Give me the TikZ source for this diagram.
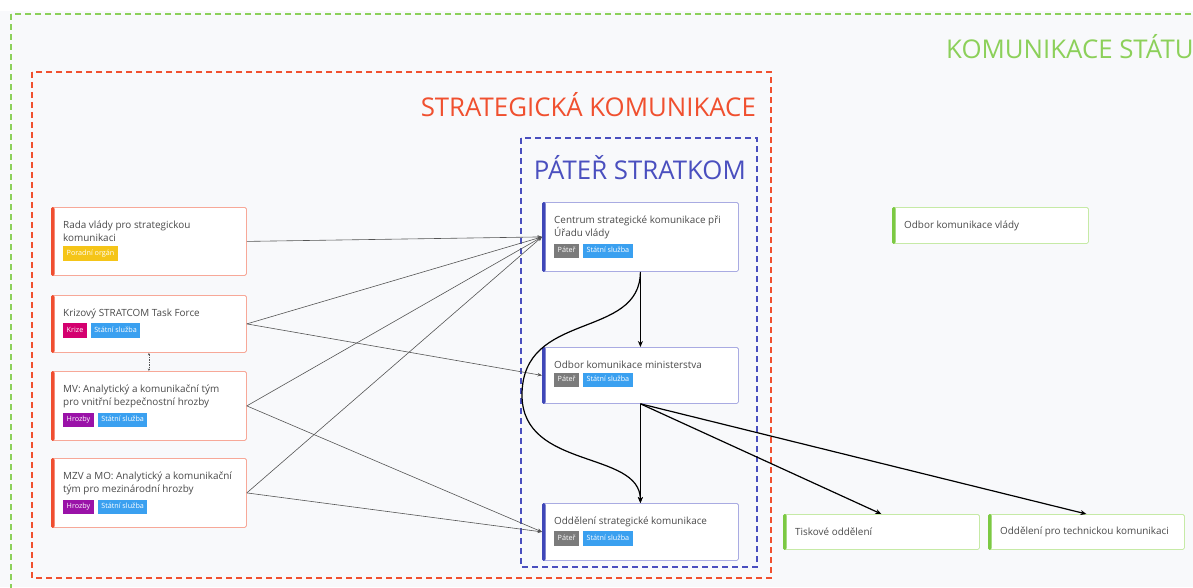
\documentclass[tikz,border=0pt]{standalone}
\usepackage{fontspec}
\setmainfont{Open Sans}
\usetikzlibrary{arrows.meta,calc}

\definecolor{canvas}{HTML}{F8F9FB}
\definecolor{txt}{HTML}{4A4A4A}
\definecolor{stategreen}{HTML}{8CD05A}
\definecolor{stratred}{HTML}{F0502F}
\definecolor{spineblue}{HTML}{4A4FBF}
\definecolor{redborder}{HTML}{F7A898}
\definecolor{redaccent}{HTML}{F04E30}
\definecolor{blueborder}{HTML}{A9ABE2}
\definecolor{blueaccent}{HTML}{3F47B8}
\definecolor{greenborder}{HTML}{C6EAA6}
\definecolor{greenaccent}{HTML}{7CC943}
\definecolor{tagyellow}{HTML}{F5C518}
\definecolor{tagmagenta}{HTML}{D4006F}
\definecolor{tagblue}{HTML}{3AA0F0}
\definecolor{tagpurple}{HTML}{9A12A8}
\definecolor{taggray}{HTML}{7B7B7B}
\definecolor{linkgray}{HTML}{555555}

% small coloured label with white text
\newcommand\tagpill[2]{{\setlength\fboxsep{3.5pt}\colorbox{#1}{\rule[-2pt]{0pt}{7pt}\color{white}\fontsize{7.2}{8}\selectfont #2}}}

\tikzset{
  cardbox/.style={draw=#1border, fill=white, rounded corners=1.5pt, line width=0.8pt,
                  inner sep=0pt, anchor=north west},
  cardtext/.style={anchor=north west, inner sep=0pt, align=left, text=txt,
                   font=\fontsize{9.9}{13.5}\selectfont},
  zone/.style={draw=#1, line width=1.5pt, dash pattern=on 6pt off 4pt},
  zonetitle/.style={text=#1, font=\fontsize{25.8}{28}\selectfont, inner sep=0pt},
  thinlink/.style={draw=linkgray, line width=0.6pt, -{Stealth[length=4.5pt,width=3.5pt]}},
  thicklink/.style={draw=black, line width=1.2pt, -{Stealth[length=6pt,width=5pt]}},
}

% name, x, y, width, height, colour family, title, tags
\newcommand\card[8]{%
  \node[cardbox=#6, minimum width=#4pt, minimum height=#5pt] (#1) at (#2,#3) {};
  \fill[#6accent, rounded corners=1.5pt] (#1.north west) rectangle ([xshift=3.5pt]#1.south west);
  \node[cardtext] (#1-t) at ([xshift=12pt,yshift=-13.5pt]#1.north west) {#7};
  \node[anchor=north west, inner sep=0pt] (#1-g) at ([yshift=-4pt]#1-t.south west) {#8};
}
% name, x, y, width, height, title (one line, green family)
\newcommand\plaincard[6]{%
  \node[cardbox=green, minimum width=#4pt, minimum height=#5pt] (#1) at (#2,#3) {};
  \fill[greenaccent, rounded corners=1.5pt] (#1.north west) rectangle ([xshift=3.5pt]#1.south west);
  \node[cardtext, anchor=west] (#1-t) at ([xshift=12pt]#1.west) {#6};
}

\begin{document}
\begin{tikzpicture}[x=1pt,y=-1pt]
\useasboundingbox (0,0) rectangle (1193,587);
\fill[canvas] (0,0) rectangle (1193,587);
\fill[white] (0,0) rectangle (1193,11);

% nested zones
\draw[zone=stategreen] (11,14) rectangle (1210,600);
\node[zonetitle=stategreen, anchor=west] (zstate) at (946,47) {KOMUNIKACE STÁTU};
\draw[zone=stratred] (32,72) rectangle (771,578);
\node[zonetitle=stratred, anchor=east] (zstrat) at (756,105) {STRATEGICKÁ KOMUNIKACE};
\draw[zone=spineblue] (521,138) rectangle (757,567);
\node[zonetitle=spineblue, anchor=east] (zspine) at (746,168) {PÁTEŘ STRATKOM};

% left column
\card{rada}{51}{207}{195}{68}{red}{Rada vlády pro strategickou\\komunikaci}
  {\tagpill{tagyellow}{Poradní orgán}}
\card{krize}{51}{295}{195}{57}{red}{Krizový STRATCOM Task Force}
  {\tagpill{tagmagenta}{Krize}\hspace{4pt}\tagpill{tagblue}{Státní služba}}
\card{mv}{51}{371}{195}{69}{red}{MV: Analytický a komunikační tým\\pro vnitřní bezpečnostní hrozby}
  {\tagpill{tagpurple}{Hrozby}\hspace{4pt}\tagpill{tagblue}{Státní služba}}
\card{mzv}{51}{458}{195}{69}{red}{MZV a MO: Analytický a komunikační\\tým pro mezinárodní hrozby}
  {\tagpill{tagpurple}{Hrozby}\hspace{4pt}\tagpill{tagblue}{Státní služba}}

% spine column
\card{centrum}{542}{202}{196}{69}{blue}{Centrum strategické komunikace při\\Úřadu vlády}
  {\tagpill{taggray}{Páteř}\hspace{4pt}\tagpill{tagblue}{Státní služba}}
\card{odbmin}{542}{347}{196}{56}{blue}{Odbor komunikace ministerstva}
  {\tagpill{taggray}{Páteř}\hspace{4pt}\tagpill{tagblue}{Státní služba}}
\card{oddstrat}{542}{503}{196}{57}{blue}{Oddělení strategické komunikace}
  {\tagpill{taggray}{Páteř}\hspace{4pt}\tagpill{tagblue}{Státní služba}}

% other state communication units
\plaincard{odbvlady}{892}{207}{196}{36}{Odbor komunikace vlády}
\plaincard{tisk}{783}{514}{196}{35}{Tiskové oddělení}
\plaincard{tech}{988}{514}{196}{35}{Oddělení pro technickou komunikaci}

% thin links into the spine
\draw[thinlink] (rada.east) -- (centrum.west);
\draw[thinlink] (krize.east) -- (centrum.west);
\draw[thinlink] (krize.east) -- (odbmin.west);
\draw[thinlink] (mv.east) -- (centrum.west);
\draw[thinlink] (mv.east) -- (oddstrat.west);
\draw[thinlink] (mzv.east) -- (centrum.west);
\draw[thinlink] (mzv.east) -- (oddstrat.west);
\draw[draw=linkgray, line width=0.6pt, dash pattern=on 1.5pt off 1pt,
      {Stealth[length=2.5pt,width=2pt]}-{Stealth[length=2.5pt,width=2pt]}]
  (krize.south) -- (mv.north);

% spine hierarchy
\draw[thicklink] (centrum.south) -- (odbmin.north);
\draw[thicklink] (centrum.south) .. controls (640,340) and (522,310) .. (522,395)
  .. controls (522,470) and (640,450) .. (oddstrat.north);
\draw[thicklink] (odbmin.south) -- (oddstrat.north);
\draw[thicklink] (odbmin.south) -- (tisk.north);
\draw[thicklink] (odbmin.south) -- (tech.north);
\end{tikzpicture}
\end{document}
